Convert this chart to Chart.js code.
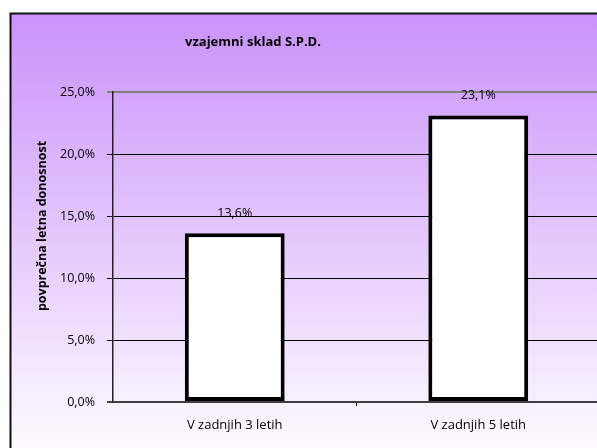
<!DOCTYPE html>
<html>
<head>
<meta charset="utf-8">
<script src="https://cdn.jsdelivr.net/npm/chart.js@4.4.1/dist/chart.umd.min.js"></script>
<style>
  html, body { margin: 0; padding: 0; overflow: hidden; background: #fff; }
  #wrap { width: 597px; height: 448px; overflow: hidden; }
  canvas { display: block; }
</style>
</head>
<body>
<div id="wrap"><canvas id="chart" width="620" height="448"></canvas></div>
<script>
const categories = ['V zadnjih 3 letih', 'V zadnjih 5 letih'];
const returns = [13.6, 23.1];
const chartTitle = 'vzajemni sklad S.P.D.';
const yTitle = 'povprečna letna donosnost';

const fmt = v => v.toFixed(1).replace('.', ',') + '%';
const FONT = '"Open Sans", sans-serif';

// frame + gradient background
const backdrop = {
    id: 'backdrop',
    beforeDraw(chart) {
        const c = chart.ctx;
        c.save();
        c.fillStyle = '#fff';
        c.fillRect(0, 0, chart.width, chart.height);
        const g = c.createLinearGradient(0, 14, 0, 448);
        g.addColorStop(0, '#ca92fa');
        g.addColorStop(1, '#fdfbff');
        c.fillStyle = g;
        c.fillRect(10, 13, chart.width, chart.height);
        c.strokeStyle = '#111';
        c.lineWidth = 2;
        c.beginPath();
        c.moveTo(10.5, chart.height);
        c.lineTo(10.5, 13.5);
        c.lineTo(chart.width, 13.5);
        c.stroke();
        c.restore();
    }
};

// titles and value labels
const texts = {
    id: 'texts',
    afterDatasetsDraw(chart) {
        const c = chart.ctx;
        c.save();
        c.fillStyle = '#000';
        c.textAlign = 'center';
        c.textBaseline = 'middle';
        c.font = 'bold 13px ' + FONT;
        c.fillText(chartTitle, 253, 42);
        c.save();
        c.translate(42, 226);
        c.rotate(-Math.PI / 2);
        c.font = 'bold 12.5px ' + FONT;
        c.fillText(yTitle, 0, 0);
        c.restore();
        c.font = '12.5px ' + FONT;
        chart.getDatasetMeta(0).data.forEach((bar, i) => {
            c.fillText(fmt(returns[i]), bar.x, bar.y - 20);
        });
        c.restore();
    }
};

new Chart(document.getElementById('chart'), {
    type: 'bar',
    data: {
        labels: categories,
        datasets: [{
            data: returns,
            backgroundColor: '#fff',
            borderColor: '#000',
            borderWidth: 4,
            borderSkipped: false,
            categoryPercentage: 1,
            barPercentage: 0.41
        }]
    },
    options: {
        responsive: false,
        animation: false,
        layout: { padding: { top: 92, right: 20, left: 0, bottom: 0 } },
        plugins: { legend: { display: false }, tooltip: { enabled: false } },
        scales: {
            x: {
                afterFit: s => { s.height = 46; },
                grid: {
                    offset: true,
                    drawOnChartArea: false,
                    tickLength: 4,
                    color: c => c.index === 1 ? '#000' : 'rgba(0,0,0,0)'
                },
                border: { color: '#404040', width: 2 },
                ticks: { color: '#000', padding: 11, font: { family: FONT, size: 13 } }
            },
            y: {
                min: 0,
                max: 25,
                afterFit: s => { s.width = 113; },
                ticks: {
                    stepSize: 5,
                    color: '#000',
                    padding: 12,
                    font: { family: FONT, size: 12.5 },
                    callback: v => fmt(v)
                },
                grid: {
                    tickLength: 6,
                    color: c => c.tick && c.tick.value === 25 ? '#808080' : (c.tick && c.tick.value === 0 ? '#404040' : '#000'),
                    lineWidth: c => c.tick && (c.tick.value === 25 || c.tick.value === 0) ? 2 : 1
                },
                border: { color: '#222', width: 1.5 }
            }
        }
    },
    plugins: [backdrop, texts]
});
</script>
</body>
</html>
